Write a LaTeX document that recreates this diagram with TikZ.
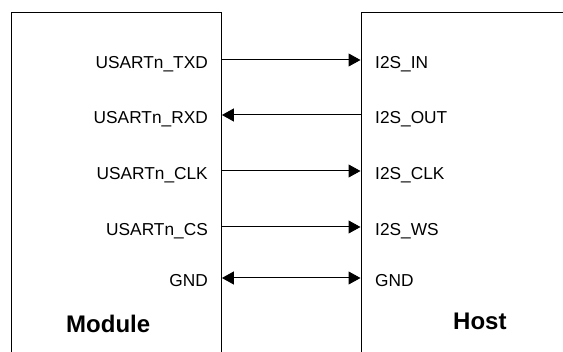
\documentclass[tikz,border=0pt]{standalone}
\usepackage{fontspec}
\setmainfont{Liberation Sans}
\usetikzlibrary{arrows.meta,positioning}

\begin{document}
\begin{tikzpicture}[
  x=1pt, y=-1pt,
  font=\fontsize{17.3}{20}\selectfont,
  unit/.style={draw, line width=1.4pt, inner sep=0pt},
  pin/.style={inner sep=0pt},
  title/.style={font=\fontsize{24}{28}\selectfont\bfseries, inner sep=0pt},
  ar/.style={line width=1pt, -{Triangle[length=12pt, width=13pt]}},
  bar/.style={line width=1pt, {Triangle[length=12pt, width=13pt]}-{Triangle[length=12pt, width=13pt]}}]

\useasboundingbox (0,0) rectangle (563,352);
\clip (0,0) rectangle (563,352);

\node[unit, minimum width=210pt, minimum height=360pt, anchor=north west] (module) at (10.5,12) {};
\node[unit, minimum width=240pt, minimum height=360pt, anchor=north west] (host) at (360.5,12) {};

% module side
\node[pin, anchor=base east] (txd) at (208,68.5) {USARTn\_TXD};
\node[pin, anchor=base east] (rxd) at (208,123.5) {USARTn\_RXD};
\node[pin, anchor=base east] (clk) at (208,179.5) {USARTn\_CLK};
\node[pin, anchor=base east] (cs) at (208,235.5) {USARTn\_CS};
\node[pin, anchor=base east] (mgnd) at (208,286.5) {GND};

% host side
\node[pin, anchor=base west] (in) at (375,68.5) {I2S\_IN};
\node[pin, anchor=base west] (out) at (375,123.5) {I2S\_OUT};
\node[pin, anchor=base west] (hclk) at (375,179.5) {I2S\_CLK};
\node[pin, anchor=base west] (ws) at (375,235.5) {I2S\_WS};
\node[pin, anchor=base west] (hgnd) at (375,286.5) {GND};

\node[title, anchor=base west] (mname) at (66,333) {Module};
\node[title, anchor=base west] (hname) at (453,330) {Host};

\draw[ar] (module.east |- 0,60) -- (host.west |- 0,60);
\draw[ar] (host.west |- 0,115) -- (module.east |- 0,115);
\draw[ar] (module.east |- 0,171) -- (host.west |- 0,171);
\draw[ar] (module.east |- 0,227) -- (host.west |- 0,227);
\draw[bar] (module.east |- 0,278) -- (host.west |- 0,278);
\end{tikzpicture}
\end{document}
